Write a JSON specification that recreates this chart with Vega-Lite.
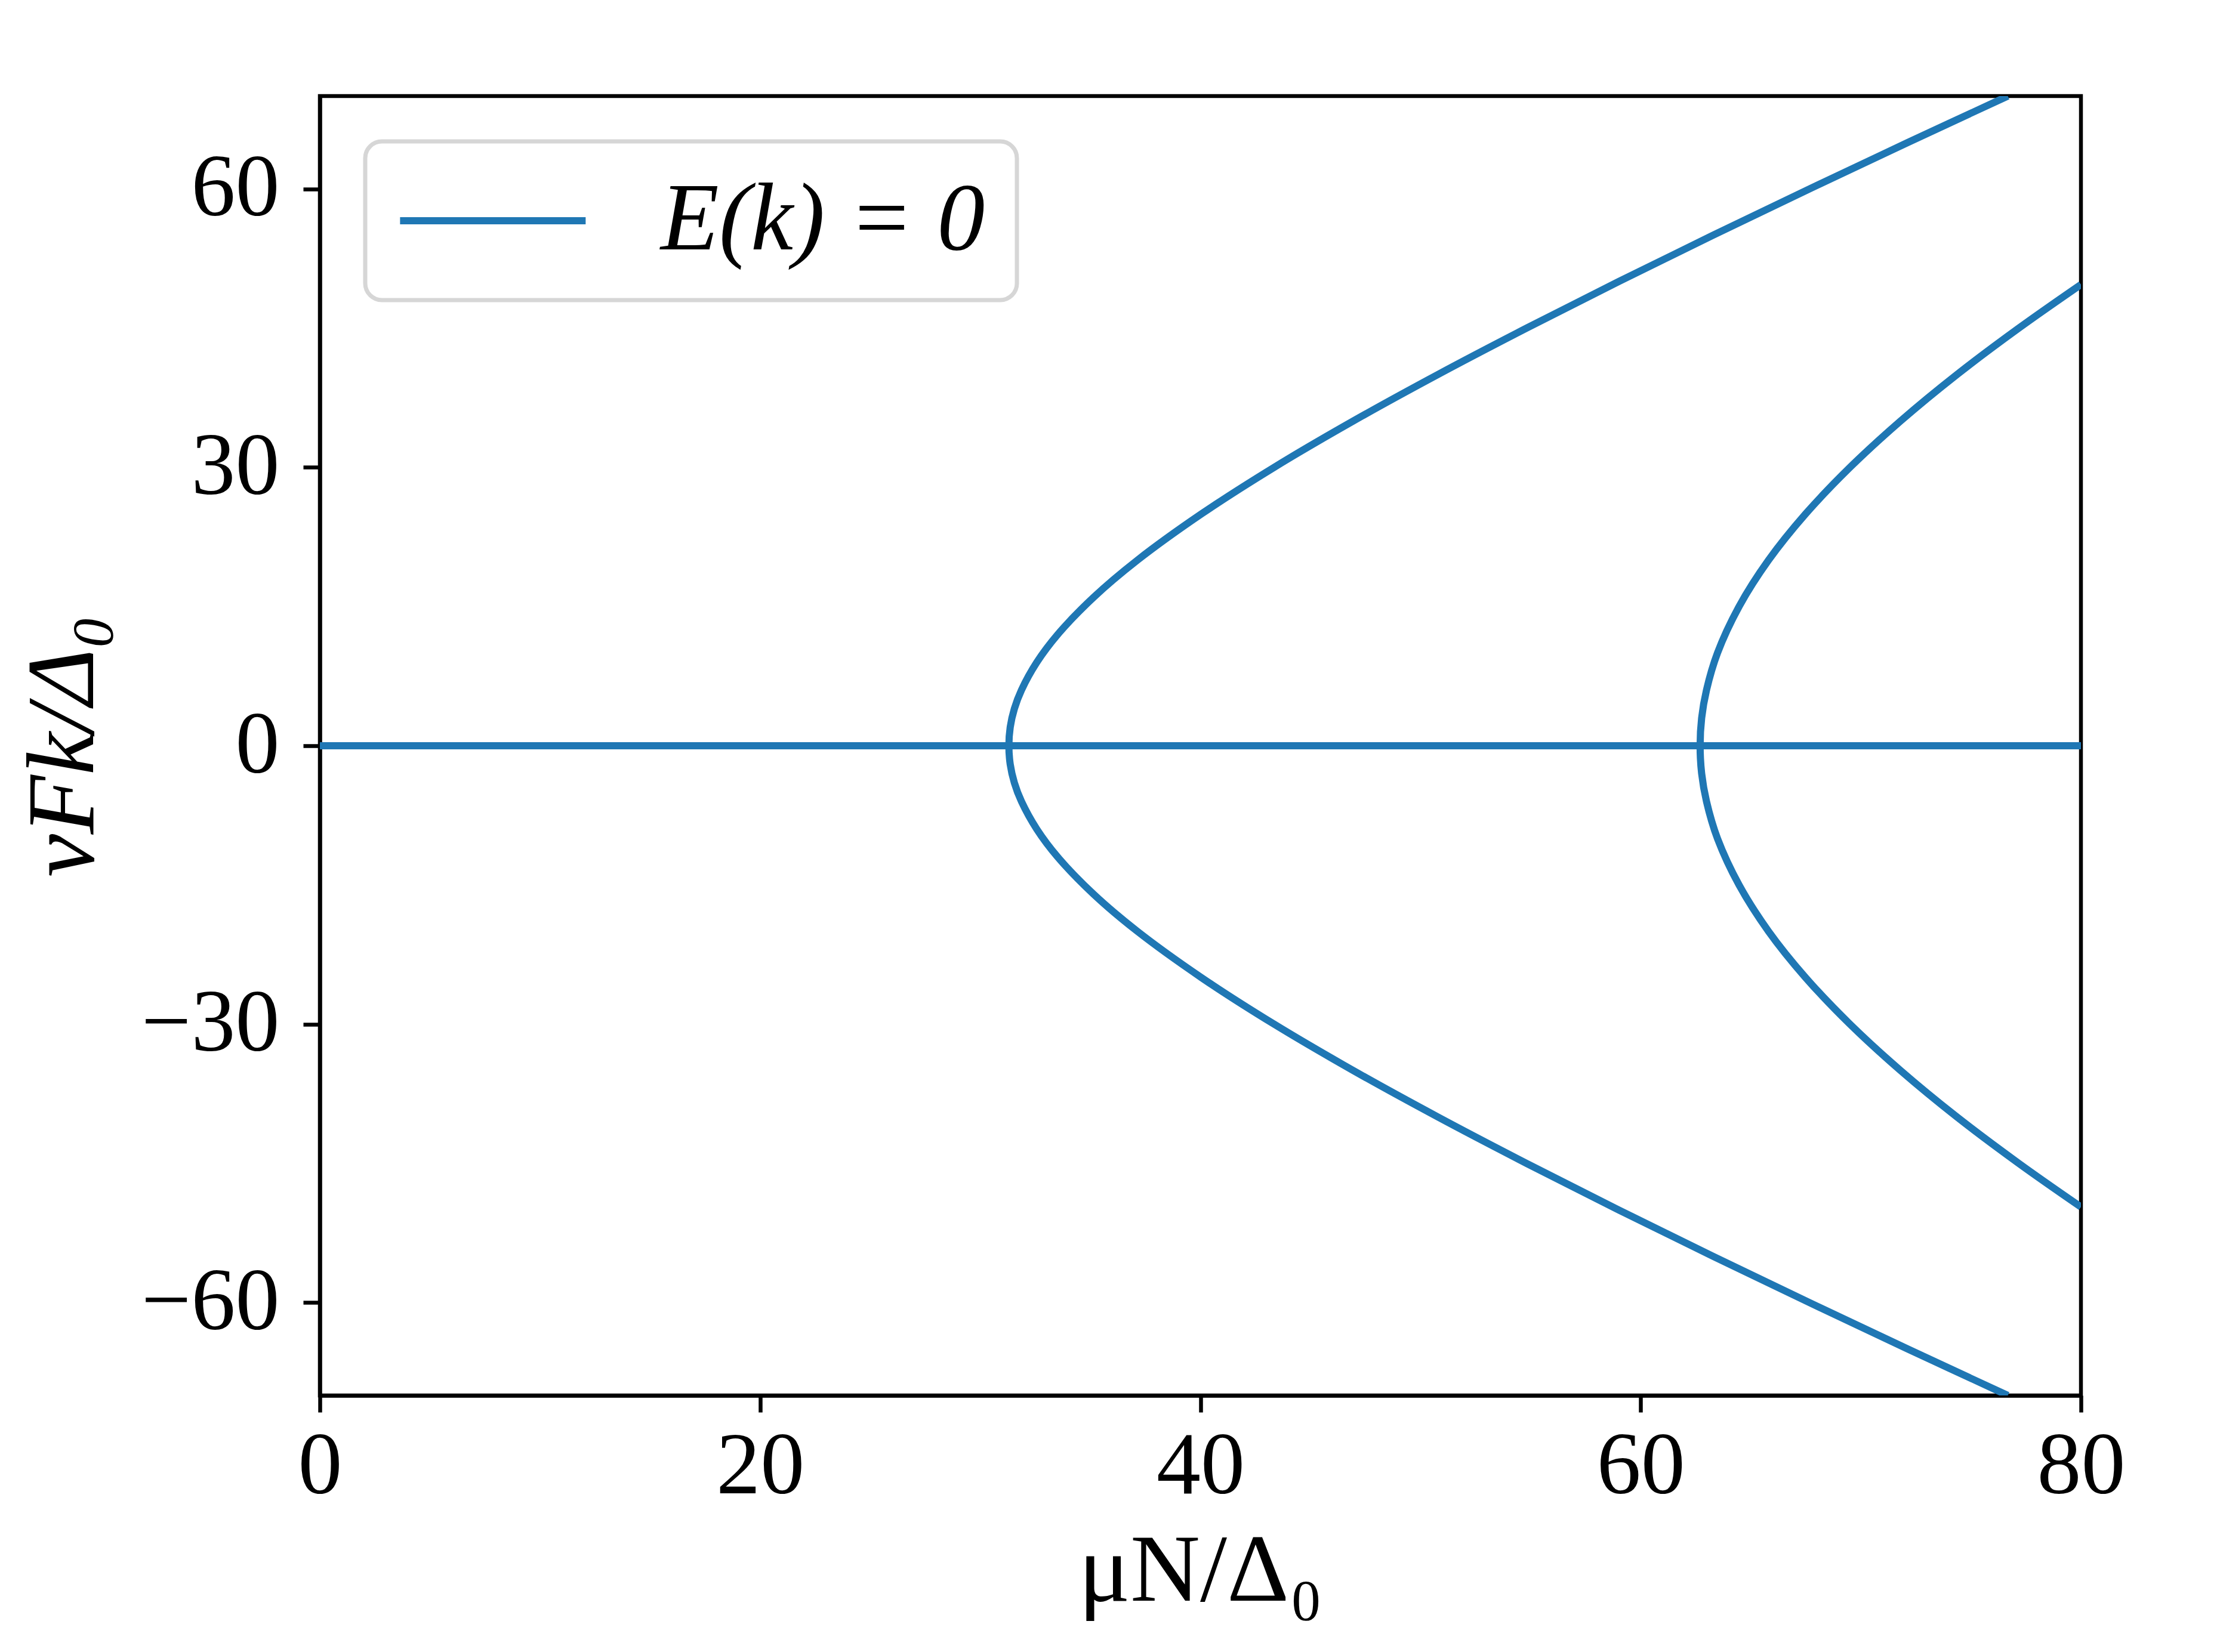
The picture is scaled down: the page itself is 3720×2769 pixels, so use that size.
{
  "$schema": "https://vega.github.io/schema/vega-lite/v6.json",
  "autosize": {"type": "none"},
  "padding": {"left": 536, "top": 161, "right": 233, "bottom": 430},
  "width": 2951,
  "height": 2178,
  "background": "white",
  "config": {
    "view": {"stroke": "black", "strokeWidth": 6.5},
    "axis": {
      "grid": false,
      "domainColor": "black",
      "domainWidth": 6.5,
      "tickColor": "black",
      "tickWidth": 6.5,
      "tickSize": 28,
      "labelFont": "Liberation Serif",
      "labelFontSize": 148,
      "labelColor": "black",
      "labelLimit": 0,
      "labelFlush": false,
      "labelOverlap": false,
      "titleFont": "Liberation Serif",
      "titleFontSize": 162,
      "titleFontWeight": "normal",
      "titleColor": "black",
      "titleLimit": 0
    },
    "legend": {
      "labelFont": "Liberation Serif",
      "labelFontSize": 160,
      "labelLimit": 0,
      "strokeWidth": 7
    }
  },
  "data": {
    "values": [
      {"mu": 0, "k": 0, "s": "h", "o": 0, "c": "E(k) = 0"},
      {"mu": 80, "k": 0, "s": "h", "o": 1, "c": "E(k) = 0"},

      {"mu": 76.68, "k": -70, "s": "b1", "o": 0, "c": "E(k) = 0"},
      {"mu": 72.14, "k": -65, "s": "b1", "o": 1, "c": "E(k) = 0"},
      {"mu": 67.67, "k": -60, "s": "b1", "o": 2, "c": "E(k) = 0"},
      {"mu": 63.28, "k": -55, "s": "b1", "o": 3, "c": "E(k) = 0"},
      {"mu": 58.99, "k": -50, "s": "b1", "o": 4, "c": "E(k) = 0"},
      {"mu": 54.82, "k": -45, "s": "b1", "o": 5, "c": "E(k) = 0"},
      {"mu": 50.79, "k": -40, "s": "b1", "o": 6, "c": "E(k) = 0"},
      {"mu": 46.95, "k": -35, "s": "b1", "o": 7, "c": "E(k) = 0"},
      {"mu": 43.35, "k": -30, "s": "b1", "o": 8, "c": "E(k) = 0"},
      {"mu": 40.06, "k": -25, "s": "b1", "o": 9, "c": "E(k) = 0"},
      {"mu": 37.14, "k": -20, "s": "b1", "o": 10, "c": "E(k) = 0"},
      {"mu": 35.15, "k": -16, "s": "b1", "o": 11, "c": "E(k) = 0"},
      {"mu": 33.52, "k": -12, "s": "b1", "o": 12, "c": "E(k) = 0"},
      {"mu": 32.57, "k": -9, "s": "b1", "o": 13, "c": "E(k) = 0"},
      {"mu": 31.87, "k": -6, "s": "b1", "o": 14, "c": "E(k) = 0"},
      {"mu": 31.55, "k": -4, "s": "b1", "o": 15, "c": "E(k) = 0"},
      {"mu": 31.36, "k": -2, "s": "b1", "o": 16, "c": "E(k) = 0"},
      {"mu": 31.3, "k": 0, "s": "b1", "o": 17, "c": "E(k) = 0"},
      {"mu": 31.36, "k": 2, "s": "b1", "o": 18, "c": "E(k) = 0"},
      {"mu": 31.55, "k": 4, "s": "b1", "o": 19, "c": "E(k) = 0"},
      {"mu": 31.87, "k": 6, "s": "b1", "o": 20, "c": "E(k) = 0"},
      {"mu": 32.57, "k": 9, "s": "b1", "o": 21, "c": "E(k) = 0"},
      {"mu": 33.52, "k": 12, "s": "b1", "o": 22, "c": "E(k) = 0"},
      {"mu": 35.15, "k": 16, "s": "b1", "o": 23, "c": "E(k) = 0"},
      {"mu": 37.14, "k": 20, "s": "b1", "o": 24, "c": "E(k) = 0"},
      {"mu": 40.06, "k": 25, "s": "b1", "o": 25, "c": "E(k) = 0"},
      {"mu": 43.35, "k": 30, "s": "b1", "o": 26, "c": "E(k) = 0"},
      {"mu": 46.95, "k": 35, "s": "b1", "o": 27, "c": "E(k) = 0"},
      {"mu": 50.79, "k": 40, "s": "b1", "o": 28, "c": "E(k) = 0"},
      {"mu": 54.82, "k": 45, "s": "b1", "o": 29, "c": "E(k) = 0"},
      {"mu": 58.99, "k": 50, "s": "b1", "o": 30, "c": "E(k) = 0"},
      {"mu": 63.28, "k": 55, "s": "b1", "o": 31, "c": "E(k) = 0"},
      {"mu": 67.67, "k": 60, "s": "b1", "o": 32, "c": "E(k) = 0"},
      {"mu": 72.14, "k": 65, "s": "b1", "o": 33, "c": "E(k) = 0"},
      {"mu": 76.68, "k": 70, "s": "b1", "o": 34, "c": "E(k) = 0"},

      {"mu": 80, "k": -49.69, "s": "b2", "o": 0, "c": "E(k) = 0"},
      {"mu": 77.18, "k": -45, "s": "b2", "o": 1, "c": "E(k) = 0"},
      {"mu": 74.37, "k": -40, "s": "b2", "o": 2, "c": "E(k) = 0"},
      {"mu": 71.81, "k": -35, "s": "b2", "o": 3, "c": "E(k) = 0"},
      {"mu": 69.51, "k": -30, "s": "b2", "o": 4, "c": "E(k) = 0"},
      {"mu": 67.5, "k": -25, "s": "b2", "o": 5, "c": "E(k) = 0"},
      {"mu": 65.81, "k": -20, "s": "b2", "o": 6, "c": "E(k) = 0"},
      {"mu": 64.47, "k": -15, "s": "b2", "o": 7, "c": "E(k) = 0"},
      {"mu": 63.49, "k": -10, "s": "b2", "o": 8, "c": "E(k) = 0"},
      {"mu": 62.99, "k": -6, "s": "b2", "o": 9, "c": "E(k) = 0"},
      {"mu": 62.77, "k": -3, "s": "b2", "o": 10, "c": "E(k) = 0"},
      {"mu": 62.7, "k": 0, "s": "b2", "o": 11, "c": "E(k) = 0"},
      {"mu": 62.77, "k": 3, "s": "b2", "o": 12, "c": "E(k) = 0"},
      {"mu": 62.99, "k": 6, "s": "b2", "o": 13, "c": "E(k) = 0"},
      {"mu": 63.49, "k": 10, "s": "b2", "o": 14, "c": "E(k) = 0"},
      {"mu": 64.47, "k": 15, "s": "b2", "o": 15, "c": "E(k) = 0"},
      {"mu": 65.81, "k": 20, "s": "b2", "o": 16, "c": "E(k) = 0"},
      {"mu": 67.5, "k": 25, "s": "b2", "o": 17, "c": "E(k) = 0"},
      {"mu": 69.51, "k": 30, "s": "b2", "o": 18, "c": "E(k) = 0"},
      {"mu": 71.81, "k": 35, "s": "b2", "o": 19, "c": "E(k) = 0"},
      {"mu": 74.37, "k": 40, "s": "b2", "o": 20, "c": "E(k) = 0"},
      {"mu": 77.18, "k": 45, "s": "b2", "o": 21, "c": "E(k) = 0"},
      {"mu": 80, "k": 49.69, "s": "b2", "o": 22, "c": "E(k) = 0"}
    ]
  },
  "mark": {"type": "line", "strokeWidth": 12, "clip": true, "strokeCap": "butt", "strokeJoin": "round", "interpolate": "catmull-rom"},
  "encoding": {
    "x": {
      "field": "mu", "type": "quantitative",
      "scale": {"domain": [0, 80], "nice": false},
      "axis": {"values": [0, 20, 40, 60, 80], "labelPadding": 18, "titlePadding": 22, "title": "μN/Δ₀"}
    },
    "y": {
      "field": "k", "type": "quantitative",
      "scale": {"domain": [-70, 70], "nice": false, "zero": false},
      "axis": {
        "values": [-60, -30, 0, 30, 60], "labelPadding": 40,
        "title": "vFk/Δ₀", "titleFontStyle": "italic",
        "titleX": -381, "titleY": 1089, "titleAngle": 270,
        "titleBaseline": "alphabetic", "titleAlign": "center"
      }
    },
    "detail": {"field": "s"},
    "order": {"field": "o", "type": "quantitative"},
    "color": {
      "field": "c", "type": "nominal",
      "scale": {"range": ["#1f77b4"]},
      "legend": {
        "title": null,
        "orient": "top-left",
        "offset": 76,
        "symbolType": "M-1.2,0H3.8",
        "symbolSize": 15475,
        "symbolStrokeWidth": 12,
        "labelOffset": 282,
        "labelFontStyle": "italic",
        "labelColor": "black",
        "padding": 53,
        "strokeColor": "#d6d6d6",
        "cornerRadius": 28,
        "fillColor": "white"
      }
    }
  }
}
